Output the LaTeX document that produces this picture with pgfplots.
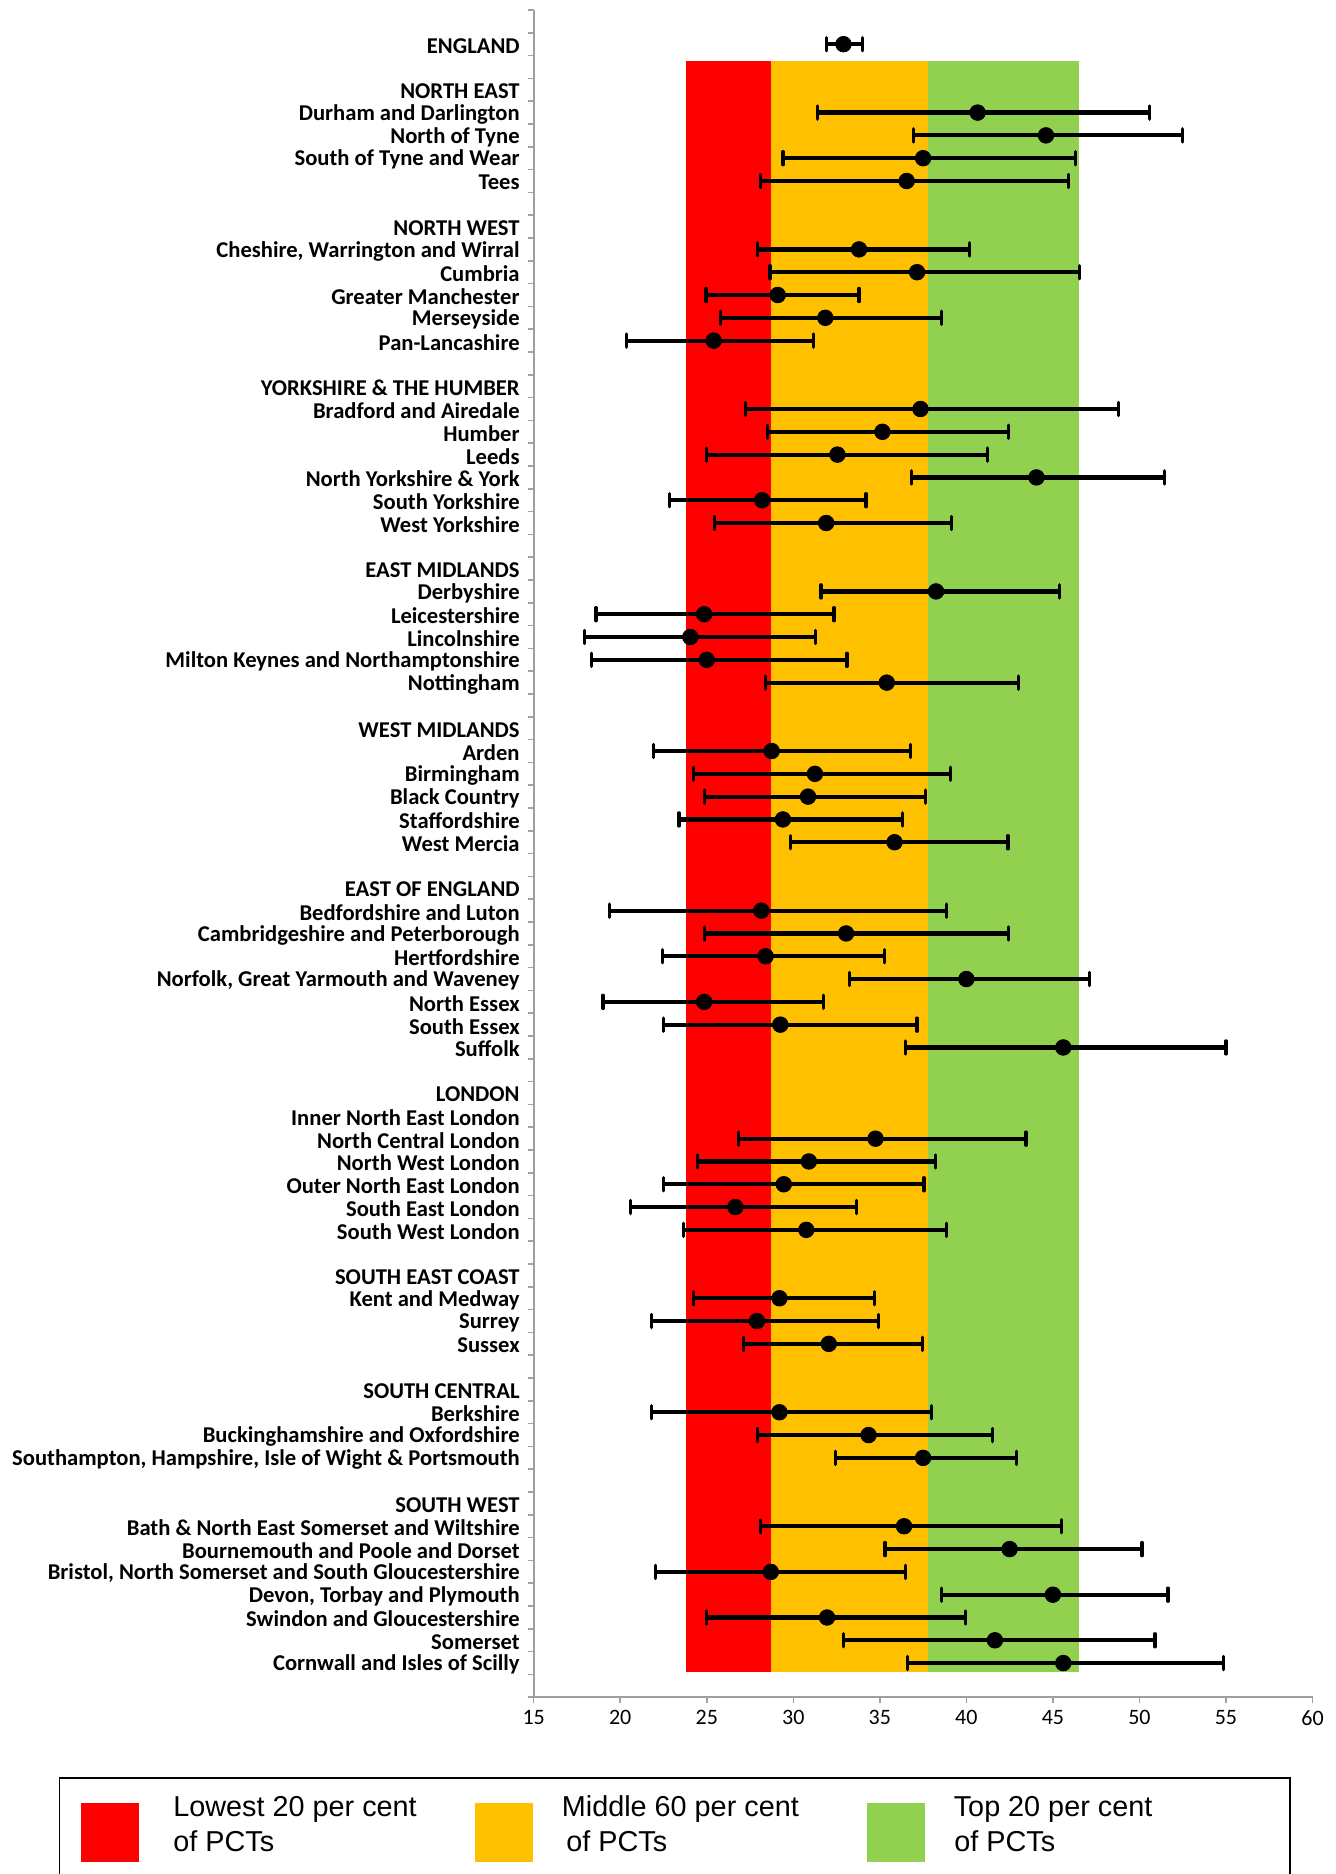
\documentclass[border=0pt]{standalone}
\usepackage{fontspec}
\setmainfont{Carlito}
\newfontfamily\arialfont{Liberation Sans}
\usepackage{pgfplots}
\pgfplotsset{compat=1.18}
\usepackage{pgfplotstable}
\definecolor{lowred}{RGB}{255,0,0}
\definecolor{midorange}{RGB}{255,192,0}
\definecolor{topgreen}{RGB}{146,208,80}
\definecolor{axisgray}{RGB}{160,160,160}

% r = row from the top, v = value, lo/hi = ends of the interval
\pgfplotstableread{
r  v     lo    hi
1  32.9  31.9  34.0
4  40.65 31.4  50.6
5  44.6  36.95 52.5
6  37.5  29.4  46.3
7  36.55 28.1  45.9
10 33.8  27.95 40.2
11 37.15 28.65 46.55
12 29.1  24.95 33.8
13 31.85 25.8  38.55
14 25.4  20.35 31.15
17 37.35 27.25 48.8
18 35.15 28.5  42.45
19 32.55 25.0  41.2
20 44.05 36.85 51.45
21 28.2  22.85 34.2
22 31.9  25.45 39.15
25 38.25 31.6  45.4
26 24.85 18.6  32.35
27 24.05 17.95 31.3
28 25.0  18.35 33.1
29 35.4  28.4  43.0
32 28.75 21.9  36.75
33 31.25 24.25 39.1
34 30.85 24.85 37.65
35 29.4  23.4  36.3
36 35.85 29.85 42.4
39 28.15 19.4  38.85
40 33.05 24.85 42.45
41 28.4  22.45 35.25
42 40.0  33.25 47.1
43 24.85 19.0  31.75
44 29.25 22.5  37.15
45 45.6  36.5  55.0
49 34.75 26.85 43.45
50 30.9  24.45 38.2
51 29.45 22.5  37.55
52 26.65 20.6  33.65
53 30.75 23.65 38.85
56 29.2  24.25 34.7
57 27.9  21.8  34.9
58 32.05 27.1  37.45
61 29.2  21.8  38.0
62 34.35 27.95 41.5
63 37.5  32.45 42.9
66 36.4  28.1  45.5
67 42.5  35.3  50.15
68 28.7  22.05 36.5
69 45.0  38.55 51.65
70 31.95 25.0  39.95
71 41.65 32.9  50.9
72 45.6  36.6  54.85
}\pctdata

\begin{document}
\begin{tikzpicture}
\useasboundingbox (0,0) rectangle (667.5pt,937pt);
\begin{axis}[
    at={(266.85pt,88.35pt)}, anchor=south west,
    scale only axis, width=389.4pt, height=843.65pt,
    xmin=15, xmax=60, ymin=-73.5, ymax=0.5,
    axis x line*=bottom, axis y line*=left,
    axis line style={draw=axisgray, line width=1pt},
    xtick={15,20,...,60},
    ytick={0,-1,...,-73},
    minor ytick={0.5,-0.5,...,-73.5},
    tick align=outside,
    major tick length=3pt, minor tick length=3pt,
    every tick/.style={draw=axisgray, line width=0.8pt},
    major y tick style={draw=none},
    x tick label style={font=\fontsize{11}{12}\selectfont},
    y tick label style={font=\bfseries\fontsize{11.3}{12}\selectfont, xshift=-0.5pt, yshift=-0.8pt},
    /pgf/number format/assume math mode=true,
    yticklabels={{}, ENGLAND, {}, NORTH EAST, Durham and Darlington, North of Tyne,
      South of Tyne and Wear, Tees, {}, NORTH WEST, {Cheshire, Warrington and Wirral},
      Cumbria, Greater Manchester, Merseyside, Pan-Lancashire, {},
      YORKSHIRE \& THE HUMBER, Bradford and Airedale, Humber, Leeds,
      North Yorkshire \& York, South Yorkshire, West Yorkshire, {},
      EAST MIDLANDS, Derbyshire, Leicestershire, Lincolnshire,
      Milton Keynes and Northamptonshire, Nottingham, {},
      WEST MIDLANDS, Arden, Birmingham, Black Country, Staffordshire, West Mercia, {},
      EAST OF ENGLAND, Bedfordshire and Luton, Cambridgeshire and Peterborough,
      Hertfordshire, {Norfolk, Great Yarmouth and Waveney}, North Essex, South Essex,
      Suffolk, {},
      LONDON, Inner North East London, North Central London, North West London,
      Outer North East London, South East London, South West London, {},
      SOUTH EAST COAST, Kent and Medway, Surrey, Sussex, {},
      SOUTH CENTRAL, Berkshire, Buckinghamshire and Oxfordshire,
      {Southampton, Hampshire, Isle of Wight \& Portsmouth}, {},
      SOUTH WEST, Bath \& North East Somerset and Wiltshire,
      Bournemouth and Poole and Dorset,
      {Bristol, North Somerset and South Gloucestershire},
      {Devon, Torbay and Plymouth}, Swindon and Gloucestershire, Somerset,
      Cornwall and Isles of Scilly, {}},
]
    % coloured bands
    \addplot[draw=none, fill=lowred] coordinates {(23.8,-1.75) (28.7,-1.75) (28.7,-72.4) (23.8,-72.4)} -- cycle;
    \addplot[draw=none, fill=midorange] coordinates {(28.7,-1.75) (37.8,-1.75) (37.8,-72.4) (28.7,-72.4)} -- cycle;
    \addplot[draw=none, fill=topgreen] coordinates {(37.8,-1.75) (46.5,-1.75) (46.5,-72.4) (37.8,-72.4)} -- cycle;

    % points with intervals
    \addplot[only marks, mark=*, mark size=3.9pt, black, mark options={fill=black},
        error bars/.cd, x dir=both, x explicit,
        error mark=|,
        error bar style={line width=2.1pt, black},
        error mark options={line width=1.6pt, mark size=3.3pt, black, line cap=round}]
        table[x=v, y expr=-\thisrow{r},
              x error plus expr=\thisrow{hi}-\thisrow{v},
              x error minus expr=\thisrow{v}-\thisrow{lo}] {\pctdata};
\end{axis}

% legend box
\draw[black, line width=0.8pt] (29.7pt,-20pt) rectangle (645pt,48pt);
\fill[lowred] (40.4pt,5.85pt) rectangle (69.4pt,35.65pt);
\fill[midorange] (237.25pt,5.85pt) rectangle (266.3pt,35.65pt);
\fill[topgreen] (433.5pt,5.85pt) rectangle (462.25pt,35.65pt);
\begin{scope}[every node/.style={anchor=base west, inner sep=0pt, font=\arialfont\fontsize{14.4}{16}\selectfont}]
\node at (86.5pt,28.65pt) {Lowest 20 per cent};
\node at (86.5pt,11.2pt) {of PCTs};
\node at (280.75pt,28.65pt) {Middle 60 per cent};
\node at (283pt,11.2pt) {of PCTs};
\node at (476.7pt,28.65pt) {Top 20 per cent};
\node at (477pt,11.2pt) {of PCTs};
\end{scope}
\end{tikzpicture}
\end{document}
